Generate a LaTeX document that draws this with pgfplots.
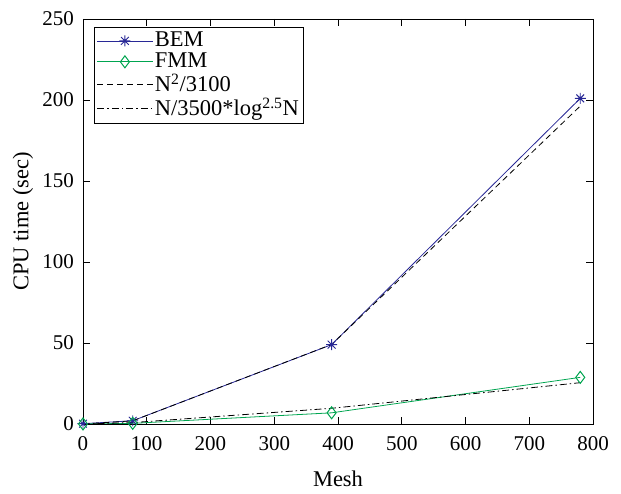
\documentclass[border=0pt]{standalone}
\usepackage{fontspec}
\setmainfont{Liberation Serif}
\usepackage{pgfplots}
\pgfplotsset{compat=1.18}
\definecolor{bemblue}{RGB}{40,40,150}
\definecolor{fmmgreen}{RGB}{0,165,80}
\pgfdeclareplotmark{mstar}{%
  \pgfpathmoveto{\pgfqpoint{-\pgfplotmarksize}{0pt}}\pgfpathlineto{\pgfqpoint{\pgfplotmarksize}{0pt}}%
  \pgfpathmoveto{\pgfqpoint{0pt}{-\pgfplotmarksize}}\pgfpathlineto{\pgfqpoint{0pt}{\pgfplotmarksize}}%
  \pgfpathmoveto{\pgfqpoint{-0.707\pgfplotmarksize}{-0.707\pgfplotmarksize}}\pgfpathlineto{\pgfqpoint{0.707\pgfplotmarksize}{0.707\pgfplotmarksize}}%
  \pgfpathmoveto{\pgfqpoint{-0.707\pgfplotmarksize}{0.707\pgfplotmarksize}}\pgfpathlineto{\pgfqpoint{0.707\pgfplotmarksize}{-0.707\pgfplotmarksize}}%
  \pgfusepathqstroke}
\begin{document}
\fontsize{21}{25}\selectfont
\begin{tikzpicture}
\begin{axis}[
  name=ax,
  scale only axis,
  width=510pt, height=405pt,
  xmin=0, xmax=800, ymin=0, ymax=250,
  xtick={0,100,...,800}, ytick={0,50,...,250},
  /pgf/number format/assume math mode=true,
  ticklabel style={font=\fontsize{21}{25}\selectfont},
  xticklabel style={yshift=-5pt},
  yticklabel style={xshift=-2pt},
  label style={font=\fontsize{22.5}{27}\selectfont},
  xlabel={Mesh}, ylabel={CPU time (sec)},
  xlabel style={yshift=-6pt},
  ylabel style={yshift=-5pt},
  tick align=inside, major tick length=7pt,
  tick style={black, line width=0.7pt},
  axis line style={line width=0.8pt},
  legend style={at={(rel axis cs:0.0216,0.980)}, anchor=north west,
    font=\fontsize{22.5}{27}\selectfont, draw=black, line width=0.8pt,
    inner sep=2.5pt, row sep=-1pt},
  legend cell align=left,
  legend image post style={line width=0.8pt},
  legend image code/.code={\draw[mark repeat=2,mark phase=2] plot coordinates {(0cm,0cm) (0.97cm,0cm) (1.94cm,0cm)};},
]
\addplot[bemblue, line width=0.8pt, mark=mstar, mark size=5.5pt, mark options={line width=0.9pt}] coordinates {
  (0,0.2) (78,2.0) (390,49) (780,201)
};
\addplot[fmmgreen, line width=0.8pt, mark=diamond, mark size=6pt, mark options={line width=1pt}] coordinates {
  (0,0) (78,0.4) (390,6.9) (780,28.8)
};
\addplot[black, line width=0.8pt, dash pattern=on 6pt off 4pt] coordinates {
  (0,0) (78,1.96) (390,49.06) (780,196.26)
};
\addplot[black, line width=0.8pt, dash pattern=on 7pt off 3pt on 1.5pt off 3pt] coordinates {
  (0,0) (78,0.88) (390,9.69) (780,25.50)
};
\legend{BEM, FMM, N\textsuperscript{2}/3100, N/3500*log\textsuperscript{2.5}N}
\end{axis}
\path ([shift={(-83pt,-62pt)}]ax.south west) rectangle ([shift={(28pt,19pt)}]ax.north east);
\end{tikzpicture}
\end{document}
